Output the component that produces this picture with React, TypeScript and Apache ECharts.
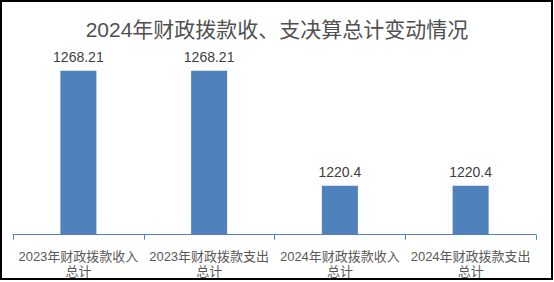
import React, { useEffect, useRef } from "react";
import * as echarts from "echarts";

const titleText = "2024年财政拨款收、支决算总计变动情况";
const categories = [
  "2023年财政拨款收入\n总计",
  "2023年财政拨款支出\n总计",
  "2024年财政拨款收入\n总计",
  "2024年财政拨款支出\n总计",
];
const values = [1268.21, 1268.21, 1220.4, 1220.4];
const valueLabels = ["1268.21", "1268.21", "1220.4", "1220.4"];

const FONT = '"Liberation Sans", "Noto Sans CJK SC", sans-serif';

export default function App() {
  const ref = useRef<HTMLDivElement>(null);
  useEffect(() => {
    if (!ref.current) return;
    const chart = echarts.init(ref.current, undefined, { renderer: "svg" });
    chart.setOption({
      animation: false,
      backgroundColor: "#ffffff",
      textStyle: { fontFamily: FONT },
      title: {
        text: titleText,
        left: "center",
        top: 14,
        textStyle: { fontSize: 21, fontWeight: "normal", color: "#505050", fontFamily: FONT },
      },
      graphic: [
        {
          type: "rect",
          shape: { x: 1, y: 1, width: 551, height: 278 },
          style: { fill: "none", stroke: "#000000", lineWidth: 2 },
          silent: true,
        },
      ],
      grid: { left: 13, right: 18, top: 42.5, bottom: 47.3, containLabel: false },
      xAxis: {
        type: "category",
        data: categories,
        axisLine: { lineStyle: { color: "#4F81BD", width: 1 } },
        axisTick: { show: true, length: 5, lineStyle: { color: "#4F81BD" } },
        axisLabel: {
          fontSize: 13,
          color: "#595959",
          lineHeight: 15,
          margin: 14,
          interval: 0,
          fontFamily: FONT,
        },
      },
      yAxis: {
        type: "value",
        min: 1200,
        max: 1280,
        show: false,
        splitLine: { show: false },
      },
      series: [
        {
          type: "bar",
          data: values,
          barWidth: 36,
          itemStyle: { color: "#4F81BD" },
          label: {
            show: true,
            position: "top",
            distance: 7,
            fontSize: 14,
            color: "#404040",
            fontFamily: FONT,
            formatter: (p: any) => valueLabels[p.dataIndex],
          },
        },
      ],
    });
    return () => chart.dispose();
  }, []);
  return (
    <div
      ref={ref}
      style={{ position: "absolute", left: 0, top: 0, width: 554, height: 282 }}
    />
  );
}
